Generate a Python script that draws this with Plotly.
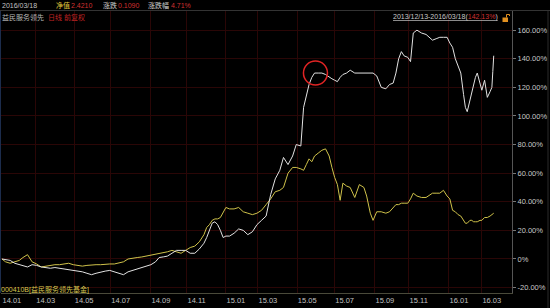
import plotly.graph_objects as go

# ---------------- data ----------------
dates = [
    "2014-01-02", "2014-01-08", "2014-01-15", "2014-01-22", "2014-01-29", "2014-02-11", "2014-02-18", "2014-02-25",
    "2014-03-04", "2014-03-11", "2014-03-18", "2014-03-25", "2014-04-01", "2014-04-09", "2014-04-16", "2014-04-23", "2014-04-30",
    "2014-05-09", "2014-05-16", "2014-05-23", "2014-05-30", "2014-06-09", "2014-06-16", "2014-06-23", "2014-06-30",
    "2014-07-07", "2014-07-14", "2014-07-21", "2014-07-28", "2014-08-04", "2014-08-11", "2014-08-18", "2014-08-25",
    "2014-09-01", "2014-09-09", "2014-09-15", "2014-09-22", "2014-09-26", "2014-10-10", "2014-10-17", "2014-10-24", "2014-10-31",
    "2014-11-07", "2014-11-14", "2014-11-21", "2014-11-28", "2014-12-03", "2014-12-08", "2014-12-11", "2014-12-16", "2014-12-19", "2014-12-24", "2014-12-29",
    "2015-01-05", "2015-01-09", "2015-01-16", "2015-01-23", "2015-01-30", "2015-02-06", "2015-02-13", "2015-02-27",
    "2015-03-06", "2015-03-13", "2015-03-20", "2015-03-27", "2015-04-03", "2015-04-10", "2015-04-17", "2015-04-24", "2015-04-30",
    "2015-05-08", "2015-05-13", "2015-05-18", "2015-05-21", "2015-05-26", "2015-05-29", "2015-06-04", "2015-06-10", "2015-06-16", "2015-06-23", "2015-06-26",
    "2015-07-01", "2015-07-06", "2015-07-09", "2015-07-14", "2015-07-20", "2015-07-24", "2015-07-31", "2015-08-07", "2015-08-14", "2015-08-19", "2015-08-25", "2015-08-28",
    "2015-09-07", "2015-09-14", "2015-09-21", "2015-09-25", "2015-10-08", "2015-10-13", "2015-10-16", "2015-10-21", "2015-10-26", "2015-10-30",
    "2015-11-04", "2015-11-09", "2015-11-13", "2015-11-20", "2015-11-27", "2015-12-03", "2015-12-08", "2015-12-14", "2015-12-18", "2015-12-24", "2015-12-30",
    "2016-01-05", "2016-01-08", "2016-01-13", "2016-01-18", "2016-01-21", "2016-01-26", "2016-01-28", "2016-02-01", "2016-02-04", "2016-02-15", "2016-02-17", "2016-02-19", "2016-02-23", "2016-02-26",
    "2016-03-01", "2016-03-04", "2016-03-09", "2016-03-14", "2016-03-16", "2016-03-17", "2016-03-18",
]

fund_pct = [  # 益民服务领先 (white)
    0, -0.5, -1, -3, -4, -4.5, -5.6, -4,
    -4.5, -5.6, -6, -6.5, -6, -6.5, -6.5, -7, -7.5,
    -8, -9, -10, -11, -10, -9, -8.5, -8,
    -9, -10.5, -11, -9, -8, -7, -6, -5,
    -4, -2, 1, 1.5, 2, 4, 6, 6, 6,
    4, 4, 7, 11, 15, 20, 25, 26, 24, 20, 15,
    16, 16, 18, 21, 20, 17, 19, 24,
    27, 30, 45, 56, 62, 71, 66, 72, 80,
    79, 106, 115, 122, 127, 130, 130, 130, 129, 127, 126,
    125, 124, 127, 129, 130, 132, 130, 130, 130, 130, 130, 130,
    128, 120, 119, 122, 123, 130, 140, 145, 142, 141,
    138, 158, 160, 158, 157, 155, 153, 154, 155, 155, 155,
    151, 148, 140, 135, 130, 115, 106, 103, 111, 116, 120, 127, 130, 122,
    118, 125, 113, 117, 120, 131, 142.13,
]

bench_pct = [  # benchmark (yellow)
    0, -2, -3, -2, -1, 1, 3, -2,
    -3.5, -5.6, -5, -4.5, -4, -4, -3.5, -3, -4,
    -4.5, -5, -4.5, -4, -4, -4, -3.5, -3.5,
    -3.5, -3, -2, 0, 0.7, 1, 1.4, 2,
    2.5, 3.5, 4, 4.5, 5, 6, 5, 4, 6,
    8, 9, 12, 17, 22, 24, 27, 28, 28, 29, 33,
    36, 35, 35, 36, 33, 32, 31, 32,
    34, 38, 42, 47, 48, 50, 60, 64, 64,
    63, 62, 66, 70, 68, 72, 74, 76, 77, 72, 64,
    57, 52, 41, 53, 51, 50, 43, 52, 50, 44, 32, 27,
    33, 33, 32, 33, 36, 38, 38, 39, 39, 39,
    42, 46, 44, 43, 43, 45, 46, 46, 46, 48, 44,
    42, 34, 33, 31, 30, 27, 25, 25, 27, 27, 26, 26, 26, 27,
    27, 29, 29, 30, 31, 31, 32,
]

tick_dates = ["2014-01-02", "2014-03-03", "2014-05-05", "2014-07-01", "2014-09-01", "2014-11-03",
              "2015-01-05", "2015-03-02", "2015-05-04", "2015-07-01", "2015-09-01", "2015-11-02",
              "2016-01-04", "2016-03-01"]
tick_labels = ["14.01", "14.03", "14.05", "14.07", "14.09", "14.11", "15.01", "15.03",
               "15.05", "15.07", "15.09", "15.11", "16.01", "16.03"]

y_ticks = [-20, 0, 20, 40, 60, 80, 100, 120, 140, 160]
y_labels = ["-20.00%", "0%", "20.00%", "40.00%", "60.00%", "80.00%", "100.00%", "120.00%", "140.00%", "160.00%"]

holidays = [
    "2014-01-01", "2014-01-31", "2014-02-03", "2014-02-04", "2014-02-05", "2014-02-06",
    "2014-04-07", "2014-05-01", "2014-05-02", "2014-06-02", "2014-09-08",
    "2014-10-01", "2014-10-02", "2014-10-03", "2014-10-06", "2014-10-07",
    "2015-01-01", "2015-01-02", "2015-02-18", "2015-02-19", "2015-02-20", "2015-02-23", "2015-02-24",
    "2015-04-06", "2015-05-01", "2015-06-22", "2015-09-03", "2015-09-04",
    "2015-10-01", "2015-10-02", "2015-10-05", "2015-10-06", "2015-10-07",
    "2016-01-01", "2016-02-08", "2016-02-09", "2016-02-10", "2016-02-11", "2016-02-12",
]

# ---------------- figure ----------------
W, H = 550, 308
L, R, T, B = 1, 38, 11, 15
pw, ph = W - L - R, H - T - B


def px(x):
    return (x - L) / pw


def py(y):
    return (H - B - y) / ph


FONT = "Liberation Sans, Arial, Noto Sans CJK SC, sans-serif"
GRID = "#2a0606"

fig = go.Figure()
fig.add_trace(go.Scatter(x=dates, y=bench_pct, mode="lines",
                         line=dict(color="#cfc24a", width=1), hoverinfo="skip"))
fig.add_trace(go.Scatter(x=dates, y=fund_pct, mode="lines",
                         line=dict(color="#e2e2e2", width=1), hoverinfo="skip"))

fig.update_layout(
    width=W, height=H, margin=dict(l=L, r=R, t=T, b=B),
    paper_bgcolor="#000000", plot_bgcolor="#000000",
    showlegend=False, font=dict(family=FONT, size=7, color="#c0c0c0"),
)
fig.update_xaxes(
    type="date", range=["2013-12-31", "2016-04-15"],
    rangebreaks=[dict(bounds=["sat", "mon"]), dict(values=holidays)],
    tickmode="array", tickvals=tick_dates, ticktext=tick_labels,
    ticklabelshift=10, ticks="", showgrid=True, gridcolor=GRID, gridwidth=1,
    showline=True, linecolor="#4a4a3a", linewidth=1, zeroline=False,
    tickfont=dict(size=7.5, color="#c0c0c0"),
)
fig.update_yaxes(
    range=[-23.8, 173.4], side="right", tickmode="array",
    tickvals=y_ticks, ticktext=y_labels, ticks="outside", ticklen=3,
    tickcolor="#777777", showgrid=True, gridcolor=GRID, gridwidth=1,
    showline=True, linecolor="#555555", linewidth=1, zeroline=False,
    tickfont=dict(size=7.5, color="#c8c8c8"),
)

RED = "#d03030"
ann = []


def add_text(x, y, text, color, size=7):
    ann.append(dict(xref="paper", yref="paper", x=px(x), y=py(y), text=text,
                    showarrow=False, xanchor="left", yanchor="middle",
                    font=dict(size=size, color=color, family=FONT), borderpad=0))


add_text(1, 5, "2016/03/18", "#c0c0c0")
add_text(55, 5, "净值", "#e0c83c")
add_text(70, 5, "2.4210", RED)
add_text(102, 5, "涨跌", "#cfcfcf")
add_text(117, 5, "0.1090", RED)
add_text(147, 5, "涨跌幅", "#cfcfcf")
add_text(170, 5, "4.71%", RED)
add_text(1, 17, "益民服务领先", "#b8b8b8")
add_text(47, 17, "日线 前复权", "#c02424")
add_text(392, 17, "<u>2013/12/13-2016/03/18(<span style='color:#d03030'>142.13%</span>)</u>", "#c8c8c8")
add_text(0, 289, "000410B[益民服务领先基金]", "#d8c850")
fig.update_layout(annotations=ann)

shapes = [
    # header separator
    dict(type="line", xref="paper", yref="paper", x0=px(0), x1=px(550), y0=py(10.5), y1=py(10.5),
         line=dict(color="#333333", width=1)),
    # left edge
    dict(type="line", xref="paper", yref="paper", x0=px(0.5), x1=px(0.5), y0=py(11), y1=py(293),
         line=dict(color="#1c2c4c", width=1)),
    # right scroll edge
    dict(type="line", xref="paper", yref="paper", x0=px(548), x1=px(548), y0=py(11), y1=py(308),
         line=dict(color="#2a2a2a", width=1)),
    # red circle highlight
    dict(type="circle", xref="x", yref="y", xsizemode="pixel", ysizemode="pixel",
         xanchor="2015-06-01", yanchor=130, x0=-12, x1=12, y0=-12, y1=12,
         line=dict(color="#e02424", width=1.5)),
    # lock icon
    dict(type="rect", xref="paper", yref="paper", x0=px(502.5), x1=px(508), y0=py(22), y1=py(17.5),
         fillcolor="#e09020", line=dict(width=0)),
    dict(type="path", xref="paper", yref="paper",
         path=f"M {px(506.5)} {py(17.5)} L {px(506.5)} {py(14.5)} L {px(509.5)} {py(14.5)} L {px(509.5)} {py(16)}",
         line=dict(color="#e09020", width=1)),
]
fig.update_layout(shapes=shapes)

fig.write_html("out.html")
